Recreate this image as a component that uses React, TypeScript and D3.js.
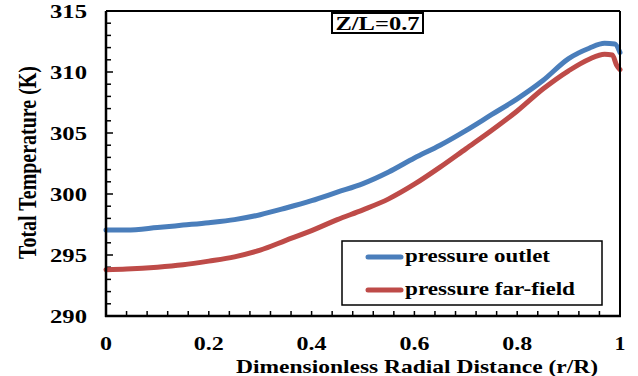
import * as d3 from "d3";

// radial positions (r/R) and total temperature (K)
const rOutlet = [0, 0.04, 0.1, 0.15, 0.2, 0.25, 0.3, 0.35, 0.4, 0.45, 0.5, 0.55, 0.6, 0.65, 0.7, 0.75, 0.8, 0.85, 0.9, 0.94, 0.97, 0.99, 1.0];
const tOutlet = [297.05, 297.05, 297.25, 297.45, 297.65, 297.9, 298.3, 298.85, 299.45, 300.15, 300.85, 301.8, 302.95, 304.0, 305.2, 306.5, 307.8, 309.3, 311.1, 311.95, 312.35, 312.3, 311.6];

const rFar = [0, 0.04, 0.1, 0.15, 0.2, 0.25, 0.3, 0.35, 0.4, 0.45, 0.5, 0.55, 0.6, 0.65, 0.7, 0.75, 0.8, 0.85, 0.9, 0.94, 0.97, 0.985, 0.993, 1.0];
const tFar = [293.8, 293.85, 294.0, 294.2, 294.5, 294.85, 295.4, 296.2, 297.0, 297.9, 298.7, 299.6, 300.8, 302.2, 303.7, 305.2, 306.8, 308.6, 310.1, 311.05, 311.45, 311.4, 310.6, 310.2];

const xTicks = [0, 0.2, 0.4, 0.6, 0.8, 1];
const yTicks = [290, 295, 300, 305, 310, 315];
const seriesNames = ["pressure outlet", "pressure far-field"];
const colors = ["#4A7EBB", "#BE4B48"];

const W = 638;
const H = 376;
const left = 106, right = 620, top = 11, bottom = 316;
const font = "Liberation Serif, DejaVu Serif, serif";

export default function App() {
  const x = d3.scaleLinear().domain([0, 1]).range([left, right]);
  const y = d3.scaleLinear().domain([290, 315]).range([bottom, top]);

  const line = d3.line<[number, number]>()
    .x(d => x(d[0]))
    .y(d => y(d[1]))
    .curve(d3.curveMonotoneX);

  const outlet = rOutlet.map((r, i) => [r, tOutlet[i]] as [number, number]);
  const far = rFar.map((r, i) => [r, tFar[i]] as [number, number]);

  const yMinor = d3.range(290, 315.01, 1);
  const xMinor = d3.range(0, 1.001, 0.04);

  const tickW: Record<string, number> = { "0": 12, "1": 11 };

  return (
    <svg width={W} height={H} fontFamily={font} fontWeight={700}
      style={{ position: "absolute", left: 0, top: 0 }}>
      <rect width={W} height={H} fill="#fff" />

      {/* minor ticks */}
      {yMinor.map(v => (
        <line key={"ym" + v} x1={left} x2={left + (v % 5 === 0 ? 7 : 5)} y1={y(v)} y2={y(v)}
          stroke="#000" strokeWidth={1.5} />
      ))}
      {xMinor.map(v => (
        <line key={"xm" + v} x1={x(v)} x2={x(v)} y1={bottom} y2={bottom - 5}
          stroke="#000" strokeWidth={1.5} />
      ))}

      {/* series */}
      <path d={line(outlet) ?? ""} fill="none" stroke={colors[0]} strokeWidth={5} strokeLinecap="round" />
      <path d={line(far) ?? ""} fill="none" stroke={colors[1]} strokeWidth={5} strokeLinecap="round" />

      {/* frame */}
      <line x1={left} x2={right} y1={top} y2={top} stroke="#000" strokeWidth={2} />
      <line x1={right} x2={right} y1={top} y2={bottom} stroke="#000" strokeWidth={2} />
      <line x1={left} x2={left} y1={top} y2={bottom + 1} stroke="#000" strokeWidth={2.5} />
      <line x1={left - 1} x2={right + 1} y1={bottom} y2={bottom} stroke="#000" strokeWidth={2.5} />

      {/* y tick labels */}
      {yTicks.map(v => (
        <text key={"yt" + v} x={87} y={y(v) + 6.5} textAnchor="end" fontSize={18}
          textLength={37} lengthAdjust="spacingAndGlyphs">{v}</text>
      ))}

      {/* x tick labels */}
      {xTicks.map(v => {
        const s = String(v);
        const w = tickW[s] ?? 30;
        return (
          <text key={"xt" + v} x={x(v) - w / 2} y={350} fontSize={18}
            textLength={w} lengthAdjust="spacingAndGlyphs">{s}</text>
        );
      })}

      {/* axis titles */}
      <text x={236} y={373} fontSize={19} textLength={362} lengthAdjust="spacingAndGlyphs">
        Dimensionless Radial Distance (r/R)
      </text>
      <g transform={`translate(36,${(66 + 259) / 2}) scale(1.3,1) rotate(-90)`}>
        <text x={0} y={0} textAnchor="middle" fontSize={19} textLength={193}
          lengthAdjust="spacingAndGlyphs">Total Temperature (K)</text>
      </g>

      {/* annotation */}
      <rect x={332} y={13} width={91} height={20} fill="#fff" stroke="#000" strokeWidth={2} />
      <text x={335.5} y={30} fontSize={18} textLength={84} lengthAdjust="spacingAndGlyphs">Z/L=0.7</text>

      {/* legend */}
      <rect x={342} y={241} width={260} height={64} fill="#fff" stroke="#000" strokeWidth={1.5} />
      {seriesNames.map((n, i) => {
        const ly = 257 + i * 33;
        return (
          <g key={n}>
            <line x1={368} x2={401} y1={ly} y2={ly} stroke={colors[i]} strokeWidth={5} strokeLinecap="round" />
            <text x={405} y={ly + 5} fontSize={19} textLength={i === 0 ? 145 : 170}
              lengthAdjust="spacingAndGlyphs">{n}</text>
          </g>
        );
      })}
    </svg>
  );
}
